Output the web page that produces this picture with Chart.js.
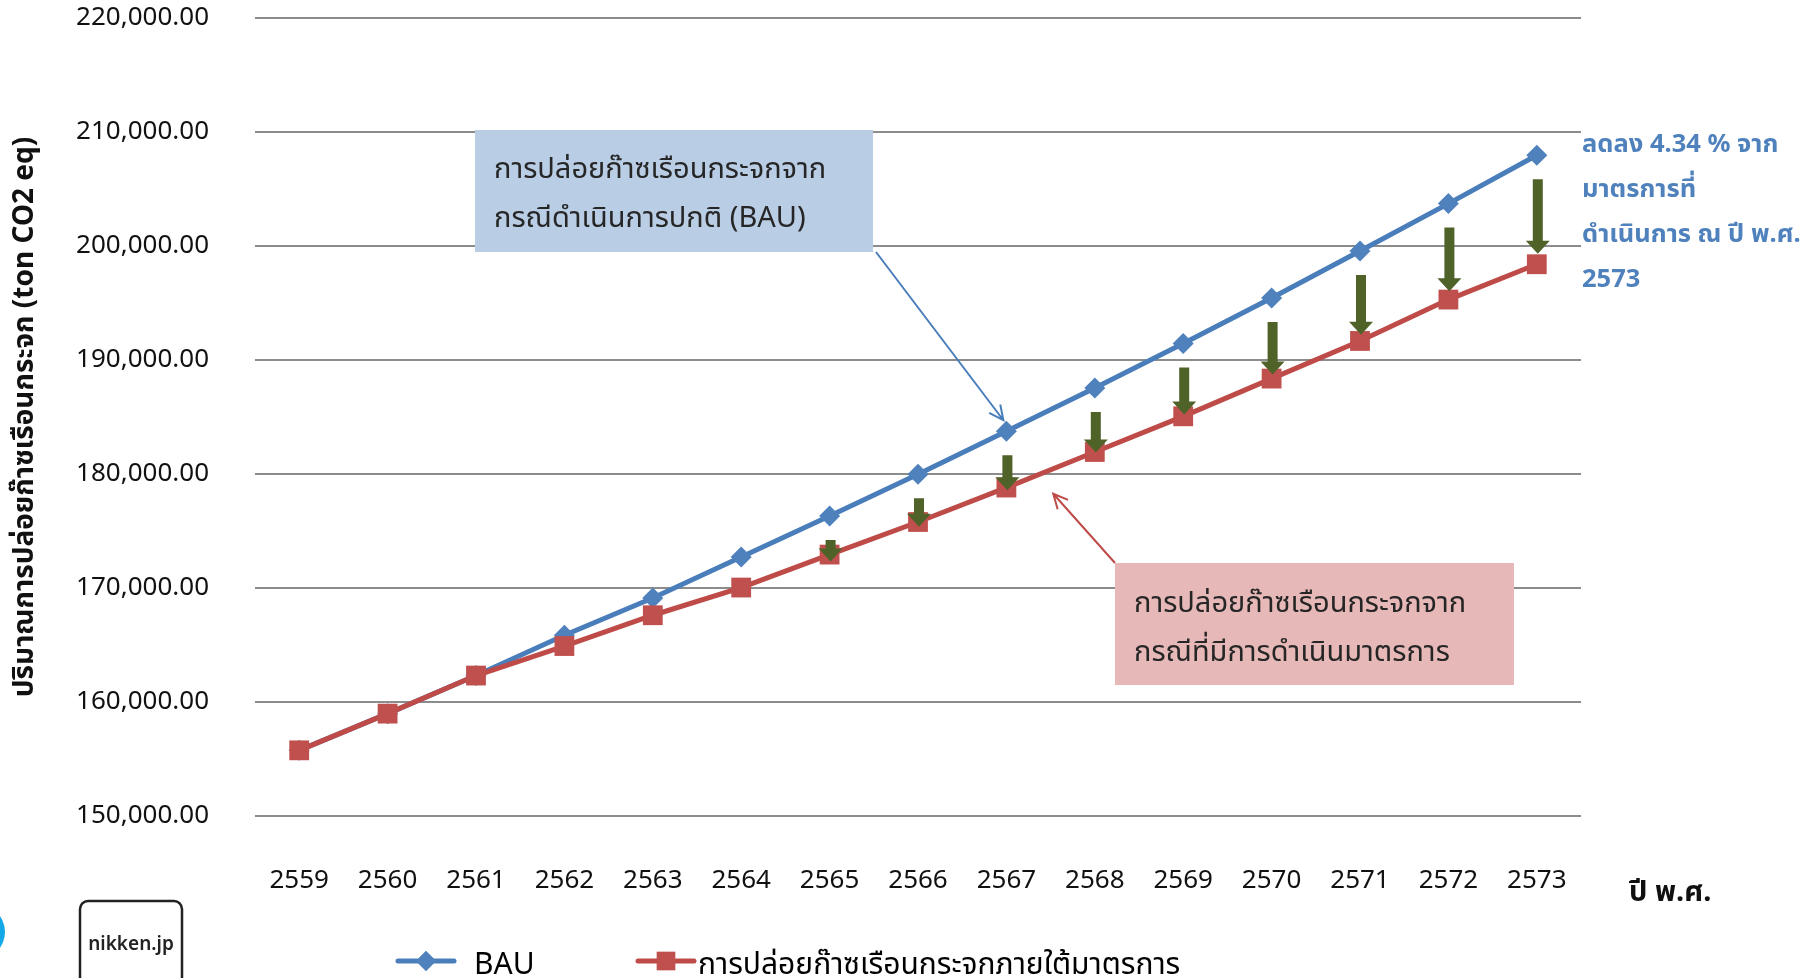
<!DOCTYPE html>
<html>
<head>
<meta charset="utf-8">
<script src="https://cdn.jsdelivr.net/npm/chart.js@4.4.1/dist/chart.umd.min.js"></script>
<style>
  html, body { margin: 0; padding: 0; background: #fff; overflow: hidden; }
  #wrap { position: relative; width: 1802px; height: 978px; }
  canvas { display: block; }
</style>
</head>
<body>
<div id="wrap"><canvas id="c" width="1802" height="978"></canvas></div>
<script>
const years = ['2559', '2560', '2561', '2562', '2563', '2564', '2565', '2566',
    '2567', '2568', '2569', '2570', '2571', '2572', '2573'];
const bau = [155760, 158980, 162320, 165850, 169120, 172720, 176320, 179970,
    183750, 187540, 191440, 195440, 199560, 203720, 207960];
const measures = [155760, 158980, 162320, 164910, 167610, 170040, 172930, 175790,
    178810, 181930, 185060, 188370, 191670, 195300, 198400];
const arrowYears = ['2565', '2566', '2567', '2568', '2569', '2570', '2571', '2572', '2573'];
const yTicks = [150000, 160000, 170000, 180000, 190000, 200000, 210000, 220000];

const BAU_LABEL = 'BAU';
const MEASURE_LABEL = 'การปล่อยก๊าซเรือนกระจกภายใต้มาตรการ';
const Y_TITLE = 'ปริมาณการปล่อยก๊าซเรือนกระจก (ton CO2 eq)';
const X_TITLE = 'ปี พ.ศ.';
const noteLines = ['ลดลง 4.34 % จาก', 'มาตรการที่', 'ดำเนินการ ณ ปี พ.ศ.', '2573'];
const bauBoxLines = ['การปล่อยก๊าซเรือนกระจกจาก', 'กรณีดำเนินการปกติ (BAU)'];
const measureBoxLines = ['การปล่อยก๊าซเรือนกระจกจาก', 'กรณีที่มีการดำเนินมาตรการ'];

const FONT = "'Noto Sans', 'Noto Sans Thai', 'Noto Sans Thai UI', Loma, sans-serif";
const blue = '#4A7EBB';
const blueMark = '#4F81BD';
const red = '#BE4B48';
const redMark = '#C0504D';
const green = '#4F6228';

function arrowLine(ctx, x0, y0, x1, y1, color) {
    // thin connector with an open arrow head at (x1, y1)
    const a = Math.atan2(y1 - y0, x1 - x0);
    const h = 16;
    ctx.save();
    ctx.strokeStyle = color;
    ctx.lineWidth = 2;
    ctx.beginPath();
    ctx.moveTo(x0, y0);
    ctx.lineTo(x1, y1);
    ctx.moveTo(x1 - h * Math.cos(a - 0.45), y1 - h * Math.sin(a - 0.45));
    ctx.lineTo(x1, y1);
    ctx.lineTo(x1 - h * Math.cos(a + 0.45), y1 - h * Math.sin(a + 0.45));
    ctx.stroke();
    ctx.restore();
}

function textBox(ctx, x, y, w, h, fill, lines, tx, ty) {
    ctx.save();
    ctx.fillStyle = fill;
    ctx.fillRect(x, y, w, h);
    ctx.fillStyle = '#262626';
    ctx.font = `29px ${FONT}`;
    ctx.textBaseline = 'middle';
    ctx.textAlign = 'left';
    lines.forEach((l, k) => ctx.fillText(l, tx, ty + k * 49));
    ctx.restore();
}

const decorations = {
    id: 'decorations',
    afterDatasetsDraw(chart) {
        const { ctx } = chart;
        const x = chart.scales.x;
        const y = chart.scales.y;

        // reduction arrows between the two series
        ctx.save();
        ctx.fillStyle = green;
        arrowYears.forEach((yr) => {
            const i = years.indexOf(yr);
            const k = arrowYears.indexOf(yr);
            const px = x.getPixelForValue(i) + 1;
            const top = y.getPixelForValue(bau[i]) + 24;
            const tip = y.getPixelForValue(measures[i]) + 7 - k * 2.2;
            const head = 13;
            ctx.beginPath();
            ctx.moveTo(px - 5, top);
            ctx.lineTo(px + 5, top);
            ctx.lineTo(px + 5, tip - head);
            ctx.lineTo(px + 12, tip - head);
            ctx.lineTo(px, tip);
            ctx.lineTo(px - 12, tip - head);
            ctx.lineTo(px - 5, tip - head);
            ctx.closePath();
            ctx.fill();
        });
        ctx.restore();

        // callout boxes and their pointers
        const i67 = years.indexOf('2567');
        textBox(ctx, 475, 130, 398, 122, '#B9CDE5', bauBoxLines, 494, 170);
        arrowLine(ctx, 876, 252, x.getPixelForValue(i67) - 3,
            y.getPixelForValue(bau[i67]) - 11, blue);
        textBox(ctx, 1115, 563, 399, 122, '#E6B9B8', measureBoxLines, 1134, 604);
        arrowLine(ctx, 1115, 563, x.getPixelForValue(i67 + 0.53),
            y.getPixelForValue((measures[i67] + measures[i67 + 1]) / 2) + 24, red);
    },
    afterDraw(chart) {
        const { ctx } = chart;
        ctx.save();

        // note on the right
        ctx.fillStyle = blueMark;
        ctx.font = `bold 25.5px ${FONT}`;
        ctx.textBaseline = 'middle';
        ctx.textAlign = 'left';
        [145, 190, 235, 280].forEach((ty, k) => ctx.fillText(noteLines[k], 1582, ty));

        // x axis title
        ctx.fillStyle = '#111';
        ctx.font = `bold 29px ${FONT}`;
        ctx.fillText(X_TITLE, 1629, 893);

        // legend
        const items = [
            { x: 398, label: BAU_LABEL, line: blue, mark: blueMark, style: 'rectRot', r: 10, tx: 474 },
            { x: 638, label: MEASURE_LABEL, line: red, mark: redMark, style: 'rect', r: 13, tx: 698 },
        ];
        items.forEach((it) => {
            const ly = 961;
            ctx.strokeStyle = it.line;
            ctx.lineWidth = 5;
            ctx.lineCap = 'round';
            ctx.beginPath();
            ctx.moveTo(it.x, ly);
            ctx.lineTo(it.x + 56, ly);
            ctx.stroke();
            ctx.fillStyle = it.mark;
            Chart.helpers.drawPoint(ctx, { pointStyle: it.style, radius: it.r, borderWidth: 0 }, it.x + 28, ly);
            ctx.fill();
            ctx.fillStyle = '#000';
            ctx.font = `30px ${FONT}`;
            ctx.textBaseline = 'middle';
            ctx.fillText(it.label, it.tx, 965);
        });

        // watermark in the corner
        ctx.fillStyle = '#13A8E8';
        ctx.beginPath();
        ctx.arc(-22, 932, 27, 0, Math.PI * 2);
        ctx.fill();
        ctx.strokeStyle = '#222';
        ctx.lineWidth = 2.5;
        ctx.beginPath();
        ctx.roundRect(80, 901, 102, 95, 8);
        ctx.stroke();
        ctx.fillStyle = '#222';
        ctx.font = `600 19px ${FONT}`;
        ctx.textAlign = 'center';
        ctx.fillText('nikken.jp', 131, 945);
        ctx.restore();
    },
};

new Chart(document.getElementById('c'), {
    type: 'line',
    data: {
        labels: years,
        datasets: [
            {
                label: BAU_LABEL,
                data: bau,
                borderColor: blue,
                backgroundColor: blueMark,
                borderWidth: 5,
                pointStyle: 'rectRot',
                pointRadius: 10.5,
                pointBorderWidth: 0,
                tension: 0,
                order: 1,
            },
            {
                label: MEASURE_LABEL,
                data: measures,
                borderColor: red,
                backgroundColor: redMark,
                borderWidth: 5,
                pointStyle: 'rect',
                pointRadius: 14,
                pointBorderWidth: 0,
                tension: 0,
                order: 0,
            },
        ],
    },
    options: {
        responsive: false,
        animation: false,
        devicePixelRatio: 1,
        layout: { padding: { top: 18, right: 221, bottom: 0, left: 0 } },
        plugins: {
            legend: { display: false },
            tooltip: { enabled: false },
        },
        scales: {
            x: {
                offset: true,
                grid: { display: false, drawTicks: false },
                border: { display: false },
                ticks: { color: '#111', font: { family: FONT, size: 26 }, padding: 49, maxRotation: 0 },
                afterFit: (s) => { s.height = 162; },
            },
            y: {
                min: 150000,
                max: 220000,
                afterBuildTicks: (s) => { s.ticks = yTicks.map((v) => ({ value: v })); },
                grid: { color: '#8C8C8C', lineWidth: 2, drawTicks: false },
                border: { display: false },
                ticks: {
                    color: '#111',
                    font: { family: FONT, size: 26 },
                    padding: 46,
                    callback: (v) => v.toLocaleString('en-US', { minimumFractionDigits: 2, maximumFractionDigits: 2 }),
                },
                title: {
                    display: true,
                    text: Y_TITLE,
                    color: '#111',
                    font: { family: FONT, size: 28, weight: 'bold' },
                    padding: { top: 8, bottom: 0 },
                },
                afterFit: (s) => {
                    s.width = 255;
                    s.paddingTop = 0;
                    s.paddingBottom = 0;
                },
            },
        },
    },
    plugins: [decorations],
});
</script>
</body>
</html>
